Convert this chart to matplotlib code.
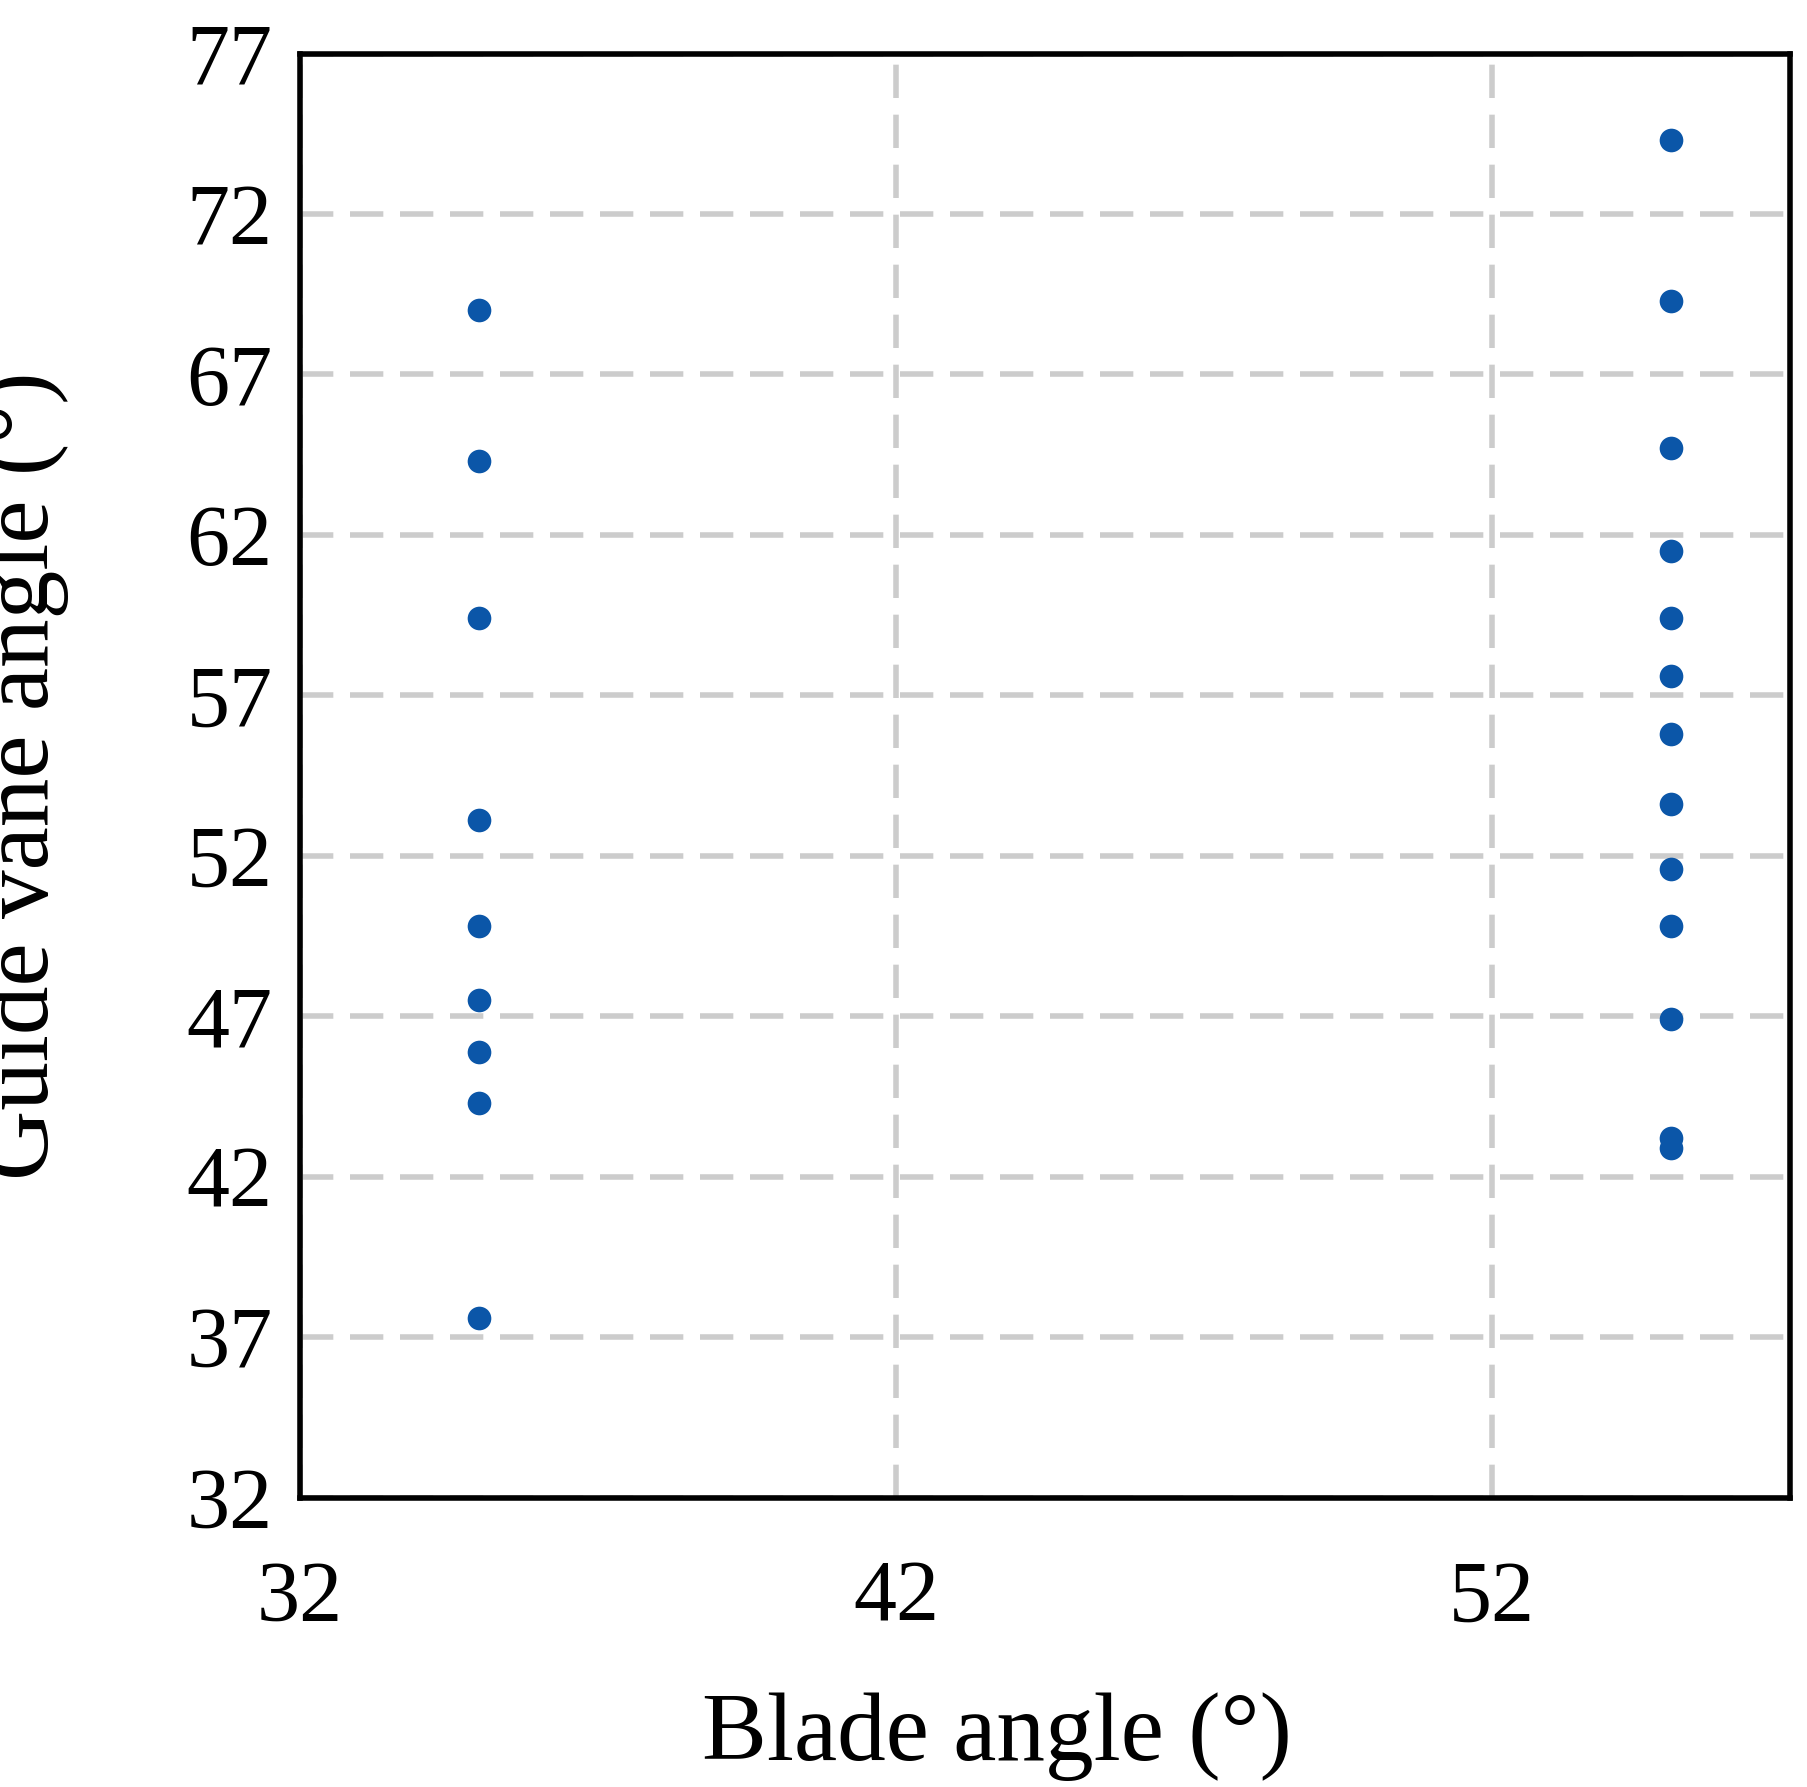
import matplotlib
matplotlib.use("Agg")
import matplotlib.pyplot as plt

left_x = [35]*9
left_y = [69.0, 64.3, 59.4, 53.1, 49.8, 47.5, 45.9, 44.3, 37.6]
right_x = [55]*13
right_y = [74.3, 69.3, 64.7, 61.5, 59.4, 57.6, 55.8, 53.6, 51.6, 49.8, 46.9, 43.2, 42.9]
xticks = [32, 42, 52]
yticks = [32, 37, 42, 47, 52, 57, 62, 67, 72, 77]

plt.rcParams['font.family'] = ['Liberation Serif', 'DejaVu Serif']
fig = plt.figure(figsize=(18.08, 17.87), dpi=100)
ax = fig.add_axes([0.166, 0.162, 0.824, 0.808])
ax.scatter(left_x + right_x, left_y + right_y, s=290, color='#0b56a8', zorder=3, linewidths=0)
ax.set_xlim(32, 57)
ax.set_ylim(32, 77)
ax.set_xticks(xticks)
ax.set_yticks(yticks)
ax.grid(True, color='#cccccc', linestyle=(0, (6, 3)), linewidth=4)
ax.tick_params(labelsize=62, length=0)
ax.tick_params(axis='x', pad=45)
ax.tick_params(axis='y', pad=20)
for s in ax.spines.values():
    s.set_linewidth(4)
ax.set_xlabel('Blade angle (°)', fontsize=70)
ax.set_ylabel('Guide vane angle (°)', fontsize=70)
ax.xaxis.set_label_coords(0.468, -0.135)
ax.yaxis.set_label_coords(-0.155, 0.5)
fig.savefig('out.png', dpi=100)
